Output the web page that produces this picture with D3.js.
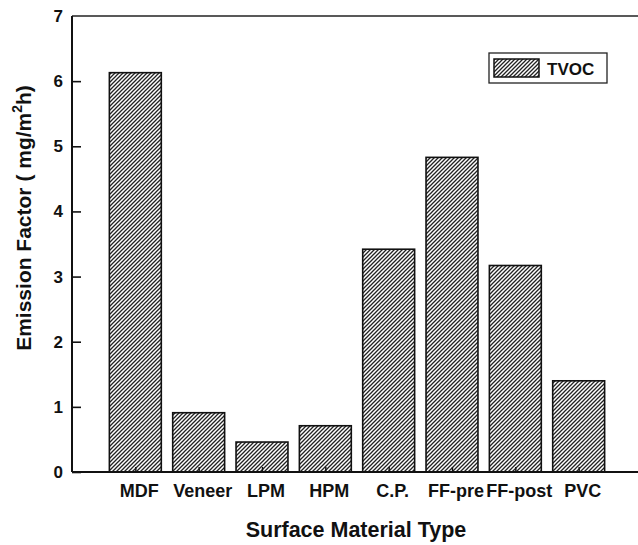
<!DOCTYPE html>
<html>
<head>
<meta charset="utf-8">
<script src="https://cdn.jsdelivr.net/npm/d3@7"></script>
<style>
  body { margin: 0; background: #fff; }
  text { font-family: "Liberation Sans", Arial, sans-serif; font-weight: bold; fill: #111; }
</style>
</head>
<body>
<div id="chart"></div>
<script>
// data
const categories = ["MDF", "Veneer", "LPM", "HPM", "C.P.", "FF-pre", "FF-post", "PVC"]
const tvoc = [6.13, 0.91, 0.46, 0.71, 3.42, 4.83, 3.17, 1.40]
const yTicks = [0, 1, 2, 3, 4, 5, 6, 7]
const seriesName = "TVOC"

const width = 638
const height = 545
const margin = { top: 16, bottom: 73, left: 72, right: -4 }

const svg = d3.select("#chart")
    .append("svg")
    .attr("width", width)
    .attr("height", height)

// hatch pattern
const defs = svg.append("defs")
const pat = defs.append("pattern")
    .attr("id", "hatch")
    .attr("patternUnits", "userSpaceOnUse")
    .attr("width", 4)
    .attr("height", 4)
pat.append("rect").attr("width", 4).attr("height", 4).attr("fill", "#fff")
pat.append("path")
    .attr("d", "M-1,1 L1,-1 M0,4 L4,0 M3,5 L5,3")
    .attr("stroke", "#222")
    .attr("stroke-width", 1.3)

// x is a linear position scale: bar i sits at i+1, axis runs 0..9
const x = d3.scaleLinear()
    .domain([0, 9])
    .range([margin.left, width - margin.right])
const y = d3.scaleLinear()
    .domain([0, 7])
    .range([height - margin.bottom, margin.top])

const barW = (x(1) - x(0)) * 0.82

const g = svg.append("g")

// bars
g.selectAll("rect.bar").data(tvoc).enter().append("rect")
    .attr("class", "bar")
    .attr("x", (d, i) => x(i + 1) - barW / 2)
    .attr("y", d => y(d))
    .attr("width", barW)
    .attr("height", d => y(0) - y(d))
    .attr("fill", "url(#hatch)")
    .attr("stroke", "#111")
    .attr("stroke-width", 1.6)

// frame (top and bottom lines run off the right edge)
const x0 = x(0), x1 = x(9), yTop = y(7), yBot = y(0)
svg.append("line").attr("x1", x0).attr("x2", x1).attr("y1", yTop).attr("y2", yTop)
    .attr("stroke", "#222").attr("stroke-width", 1.6)

// y axis, ticks pointing inward
const yAxis = d3.axisRight(y).tickValues(yTicks.slice(0, -1)).tickSize(9).tickFormat("")
const yAxisGroup = svg.append("g").attr("transform", `translate(${x0},0)`).call(yAxis)
yAxisGroup.select(".domain").remove()
yAxisGroup.selectAll("line").attr("stroke", "#111").attr("stroke-width", 1.6)
svg.append("line").attr("x1", x0).attr("x2", x0).attr("y1", yTop).attr("y2", yBot)
    .attr("stroke", "#111").attr("stroke-width", 2)

svg.selectAll("text.ytick").data(yTicks).enter().append("text")
    .attr("class", "ytick")
    .attr("x", x0 - 9)
    .attr("y", d => y(d) + 6)
    .attr("text-anchor", "end")
    .attr("font-size", 17)
    .text(d => d)

// x axis, small inward ticks
const xAxis = d3.axisTop(x).tickValues(categories.map((c, i) => i + 1)).tickSize(5).tickFormat("")
const xAxisGroup = svg.append("g").attr("transform", `translate(0,${yBot})`).call(xAxis)
xAxisGroup.select(".domain").remove()
xAxisGroup.selectAll("line").attr("stroke", "#111").attr("stroke-width", 1.4)
svg.append("line").attr("x1", x0).attr("x2", x1).attr("y1", yBot).attr("y2", yBot)
    .attr("stroke", "#111").attr("stroke-width", 2)

svg.selectAll("text.xtick").data(categories).enter().append("text")
    .attr("class", "xtick")
    .attr("x", (d, i) => x(i + 1) + 4)
    .attr("y", yBot + 25)
    .attr("text-anchor", "middle")
    .attr("font-size", 18)
    .text(d => d)

// axis titles
svg.append("text")
    .attr("x", 356)
    .attr("y", 537)
    .attr("text-anchor", "middle")
    .attr("font-size", 21.5)
    .text("Surface Material Type")

const yt = svg.append("text")
    .attr("transform", `translate(31,218) rotate(-90)`)
    .attr("text-anchor", "middle")
    .attr("font-size", 21)
yt.append("tspan").text("Emission Factor ( mg/m")
yt.append("tspan").attr("font-size", 14).attr("dy", -9).text("2")
yt.append("tspan").attr("dy", 9).text("h)")

// legend
const lg = svg.append("g").attr("transform", "translate(489,53)")
lg.append("rect").attr("width", 118).attr("height", 30)
    .attr("fill", "#fff").attr("stroke", "#222").attr("stroke-width", 1.3)
lg.append("rect").attr("x", 5).attr("y", 6).attr("width", 45).attr("height", 18)
    .attr("fill", "url(#hatch)").attr("stroke", "#111").attr("stroke-width", 1.5)
lg.append("text").attr("x", 58).attr("y", 22).attr("font-size", 17).text(seriesName)
</script>
</body>
</html>
